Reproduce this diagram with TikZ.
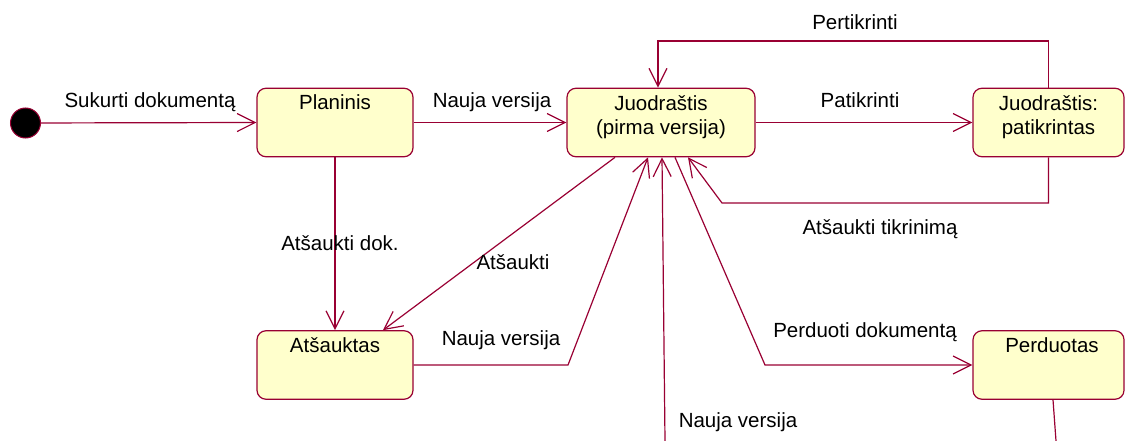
\documentclass[tikz,border=0pt]{standalone}
\usepackage{fontspec}
\setmainfont{Liberation Sans}
\usetikzlibrary{arrows.meta}
\definecolor{lc}{HTML}{990033}
\definecolor{sfill}{HTML}{FFFFCC}
\begin{document}
\begin{tikzpicture}[x=1pt,y=-1pt,
  every node/.style={font=\fontsize{20.5}{24.5}\selectfont, inner sep=0pt},
  state/.style={draw=lc, fill=sfill, line width=1.2pt, rounded corners=9pt,
    minimum width=#1, minimum height=68.5},
  state/.default=156,
  conn/.style={draw=lc, line width=1.2pt},
  tip/.style={-{Straight Barb[length=18pt,width=18pt,line width=1.2pt]}},
  lbl/.style={anchor=base}]
\useasboundingbox (0,0) rectangle (1126,441);

% states
\node[circle, fill=black, draw=lc, line width=1pt, minimum size=30pt] (init) at (25.5,123) {};
\node[state=156] (plan) at (335,122.5) {};
\node[state=188] (jd) at (661,122.5) {};
\node[state=151] (jp) at (1048.5,122.5) {};
\node[state=156] (ats) at (335,365) {};
\node[state=151] (perd) at (1048.5,365) {};

% state names (two-line names sit on the baseline of their last line)
\node[lbl] (planT) at (335,110) {Planinis};
\node[lbl, align=center] (jdT) at (661,134.5) {Juodraštis\\(pirma versija)};
\node[lbl, align=center] (jpT) at (1048.5,134.5) {Juodraštis:\\patikrintas};
\node[lbl] (atsT) at (335,352) {Atšauktas};
\node[lbl] (perdT) at (1052,352) {Perduotas};

% bend points and open ends
\coordinate (pk) at (658,41);
\coordinate (tk) at (722,203);
\coordinate (nv) at (568,365);
\coordinate (pd) at (765,365);
\coordinate (nvb) at (665,441);
\coordinate (pdb) at (1056,441);

% transitions
\draw[conn, tip] (init) -- (plan.west);
\draw[conn, tip] (plan.east) -- (jd.west);
\draw[conn, tip] (jd.east) -- (jp.west);
\draw[conn, tip] (jp.north) |- (pk) -- ([xshift=-3pt]jd.north);
\draw[conn, tip] (jp.south) |- (tk) -- ([xshift=27pt]jd.south);
\draw[conn, tip] (plan.south) -- (ats.north);
\draw[conn, tip] ([xshift=-46pt]jd.south) -- ([xshift=48pt]ats.north);
\draw[conn, tip] (ats.east) -- (nv) -- ([xshift=-13pt]jd.south);
\draw[conn, tip] (nvb) -- ([xshift=1pt]jd.south);
\draw[conn, tip] ([xshift=14pt]jd.south) -- (pd) -- (perd.west);
\draw[conn] ([xshift=4.5pt]perd.south) -- (pdb);

% transition labels
\node[lbl] (l1) at (150,107) {Sukurti dokumentą};
\node[lbl] (l2) at (492,107) {Nauja versija};
\node[lbl] (l3) at (860,107) {Patikrinti};
\node[lbl] (l4) at (855,30) {Pertikrinti};
\node[lbl] (l5) at (880,234) {Atšaukti tikrinimą};
\node[lbl] (l6) at (340,250) {Atšaukti dok.};
\node[lbl] (l7) at (513,269) {Atšaukti};
\node[lbl] (l8) at (501,345.5) {Nauja versija};
\node[lbl] (l9) at (865,337) {Perduoti dokumentą};
\node[lbl] (l10) at (738,427.5) {Nauja versija};
\end{tikzpicture}
\end{document}
